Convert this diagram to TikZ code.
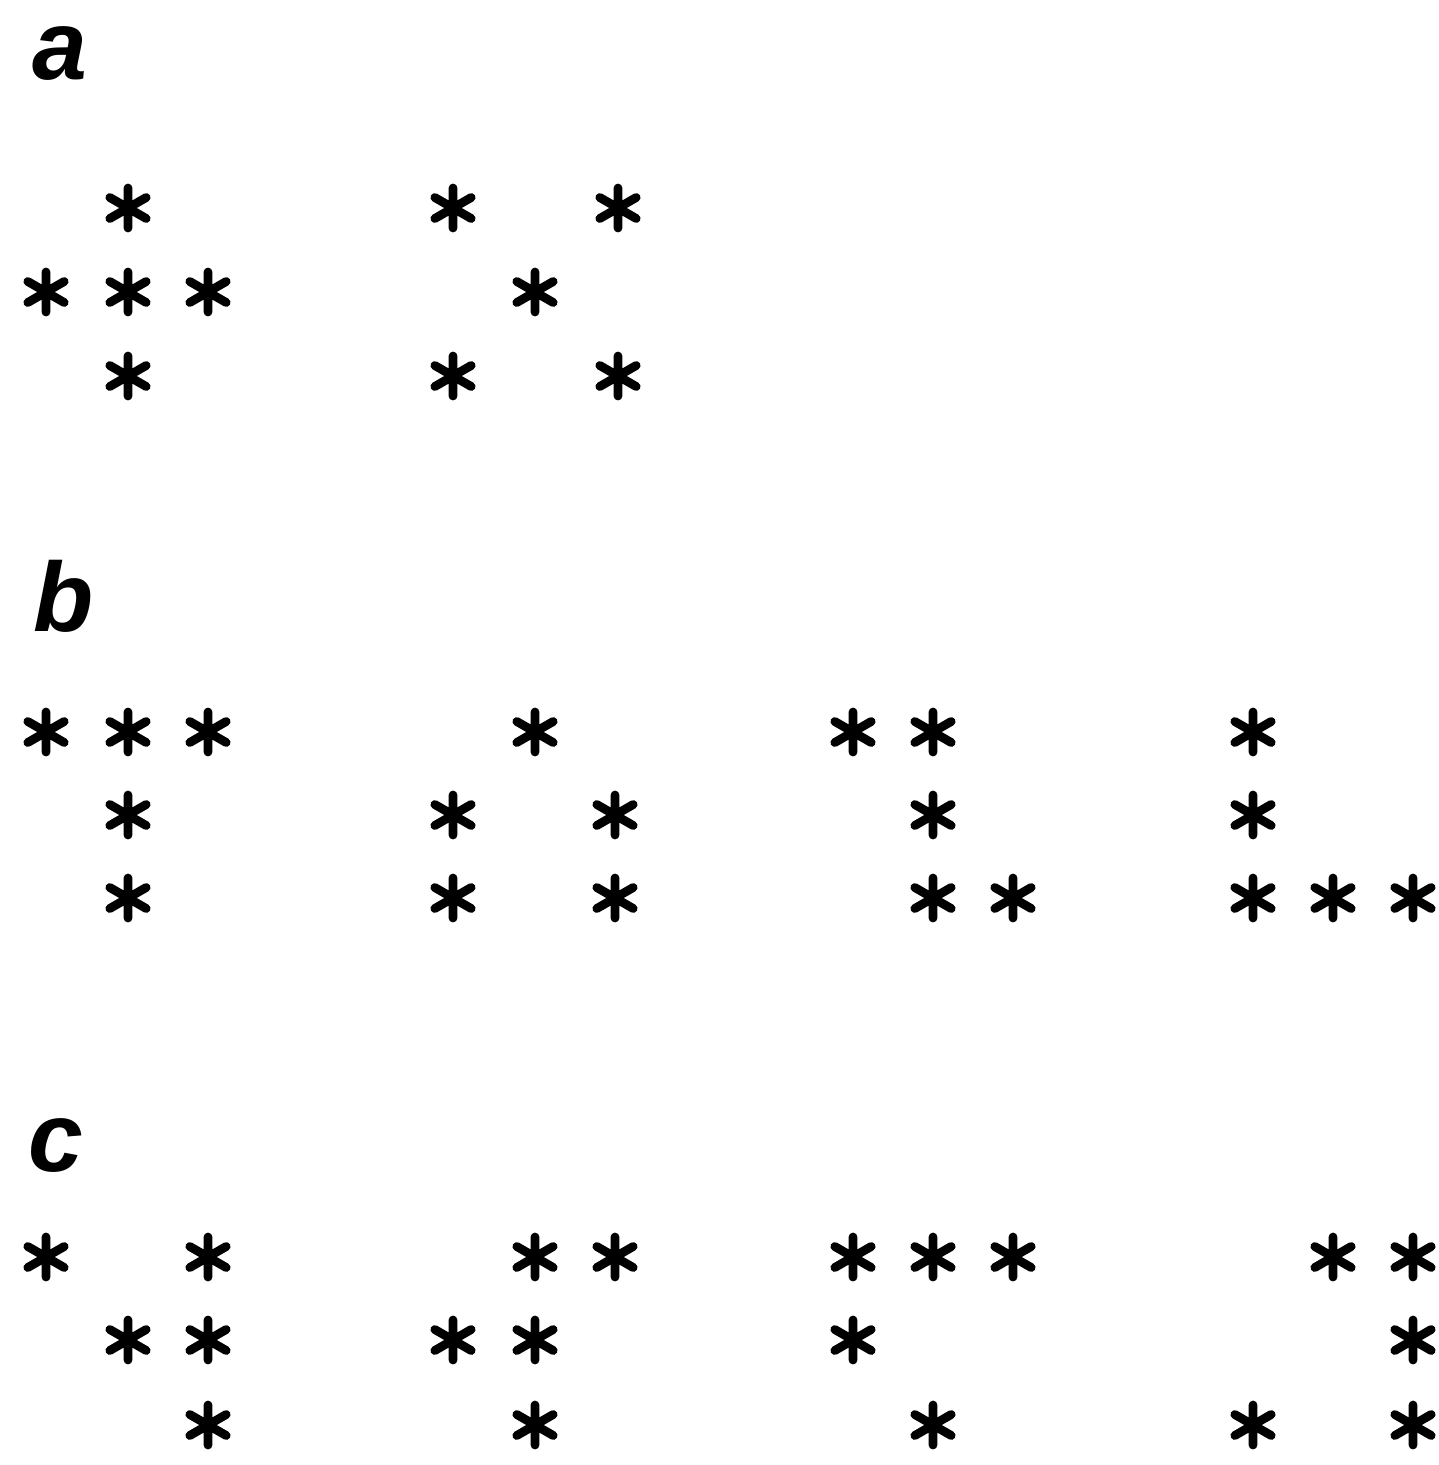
\documentclass[tikz,border=0pt]{standalone}
\usepackage{fontspec}
\setsansfont{Liberation Sans}

\begin{document}
\begin{tikzpicture}[
    x=0.02cm, y=-0.02cm,
    panel/.style={font=\sffamily\bfseries\itshape\fontsize{56}{60}\selectfont, inner sep=0pt},
    aster/.style={
        circle, minimum size=64, inner sep=0pt,
        path picture={
            \draw[line width=5pt, line cap=round, shift={(path picture bounding box.center)}]
                (90:20) -- (270:20)
                (30:21) -- (210:21)
                (150:21) -- (330:21);
        }
    }
]

% page frame
\useasboundingbox (0,0) rectangle (1439,1465);

% -------------------------
% Panel labels
% -------------------------
\node[panel] (labA) at (60,54) {a};
\node[panel] (labB) at (64,596) {b};
\node[panel] (labC) at (56,1145) {c};

% -------------------------
% Panel a
% -------------------------

% a1: plus
\node[aster] (a1-12) at (128,208) {};
\node[aster] (a1-21) at (46,292) {};
\node[aster] (a1-22) at (128,292) {};
\node[aster] (a1-23) at (208,292) {};
\node[aster] (a1-32) at (128,376) {};

% a2: cross
\node[aster] (a2-11) at (453,208) {};
\node[aster] (a2-13) at (618,208) {};
\node[aster] (a2-22) at (535,292) {};
\node[aster] (a2-31) at (453,376) {};
\node[aster] (a2-33) at (618,376) {};

% -------------------------
% Panel b
% -------------------------

% b1
\node[aster] (b1-11) at (46,732) {};
\node[aster] (b1-12) at (128,732) {};
\node[aster] (b1-13) at (208,732) {};
\node[aster] (b1-22) at (128,815) {};
\node[aster] (b1-32) at (128,898) {};

% b2
\node[aster] (b2-12) at (535,732) {};
\node[aster] (b2-21) at (453,815) {};
\node[aster] (b2-23) at (615,815) {};
\node[aster] (b2-31) at (453,898) {};
\node[aster] (b2-33) at (615,898) {};

% b3
\node[aster] (b3-11) at (853,732) {};
\node[aster] (b3-12) at (933,732) {};
\node[aster] (b3-22) at (933,815) {};
\node[aster] (b3-32) at (933,898) {};
\node[aster] (b3-33) at (1013,898) {};

% b4
\node[aster] (b4-11) at (1253,732) {};
\node[aster] (b4-21) at (1253,815) {};
\node[aster] (b4-31) at (1253,898) {};
\node[aster] (b4-32) at (1333,898) {};
\node[aster] (b4-33) at (1413,898) {};

% -------------------------
% Panel c
% -------------------------

% c1
\node[aster] (c1-11) at (46,1257) {};
\node[aster] (c1-13) at (208,1257) {};
\node[aster] (c1-22) at (128,1340) {};
\node[aster] (c1-23) at (208,1340) {};
\node[aster] (c1-33) at (208,1425) {};

% c2
\node[aster] (c2-12) at (535,1257) {};
\node[aster] (c2-13) at (615,1257) {};
\node[aster] (c2-21) at (453,1340) {};
\node[aster] (c2-22) at (535,1340) {};
\node[aster] (c2-32) at (535,1425) {};

% c3
\node[aster] (c3-11) at (853,1257) {};
\node[aster] (c3-12) at (933,1257) {};
\node[aster] (c3-13) at (1013,1257) {};
\node[aster] (c3-21) at (853,1340) {};
\node[aster] (c3-32) at (933,1425) {};

% c4
\node[aster] (c4-12) at (1333,1257) {};
\node[aster] (c4-13) at (1413,1257) {};
\node[aster] (c4-23) at (1413,1340) {};
\node[aster] (c4-31) at (1253,1425) {};
\node[aster] (c4-33) at (1413,1425) {};

\end{tikzpicture}
\end{document}
